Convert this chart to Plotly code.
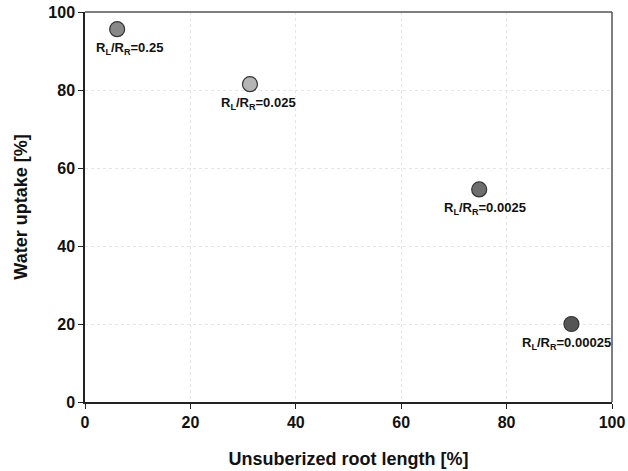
import plotly.graph_objects as go

x_vals = [6.1, 31.3, 74.8, 92.3]
y_vals = [95.6, 81.5, 54.5, 20.0]
ratios = ["0.25", "0.025", "0.0025", "0.00025"]
colors = ["#888888", "#b5b5b5", "#6e6e6e", "#555555"]
label_dx = [12, 9, 6, -5]
ticks = [0, 20, 40, 60, 80, 100]

fig = go.Figure()
fig.add_trace(go.Scatter(
    x=x_vals, y=y_vals, mode="markers",
    marker=dict(size=15, color=colors, line=dict(color="#333333", width=1.2)),
    showlegend=False, hoverinfo="skip"))

for xv, yv, r, dx in zip(x_vals, y_vals, ratios, label_dx):
    fig.add_annotation(
        x=xv, y=yv, xref="x", yref="y",
        text="<b>R<sub>L</sub>/R<sub>R</sub>=" + r + "</b>",
        showarrow=False, xshift=dx, yshift=-19,
        font=dict(family="Liberation Sans, Arial", size=13, color="#111111"))

tickfont = dict(family="Liberation Sans", size=16, color="#111111", weight="bold")
fig.update_layout(
    width=628, height=471,
    margin=dict(l=85, r=16, t=12, b=69, autoexpand=False),
    plot_bgcolor="white", paper_bgcolor="white",
    font=dict(family="Liberation Sans, Arial"),
    xaxis=dict(
        range=[0, 100], tickvals=ticks, automargin=False,
        ticks="outside", ticklen=5, tickcolor="#222222",
        showline=True, linecolor="#222222", linewidth=1.5, mirror=False,
        showgrid=True, gridcolor="#e6e6e6", griddash="dot", gridwidth=1,
        zeroline=False, tickfont=tickfont,
        title=dict(text="<b>Unsuberized root length [%]</b>", font=dict(size=18, color="#111111"), standoff=22)),
    yaxis=dict(
        range=[0, 100], tickvals=ticks, automargin=False,
        ticks="outside", ticklen=5, tickcolor="#222222",
        showline=True, linecolor="#222222", linewidth=1.5, mirror=False,
        showgrid=True, gridcolor="#e6e6e6", griddash="dot", gridwidth=1,
        zeroline=False, tickfont=tickfont,
        title=dict(text="<b>Water uptake [%]</b>", font=dict(size=18, color="#111111"), standoff=16)),
)
fig.add_shape(type="line", xref="paper", yref="paper", x0=0, x1=1, y0=1, y1=1,
              line=dict(color="#555555", width=1.5))
fig.add_shape(type="line", xref="paper", yref="paper", x0=1, x1=1, y0=0, y1=1,
              line=dict(color="#555555", width=1.5))

fig.write_html("out.html")
